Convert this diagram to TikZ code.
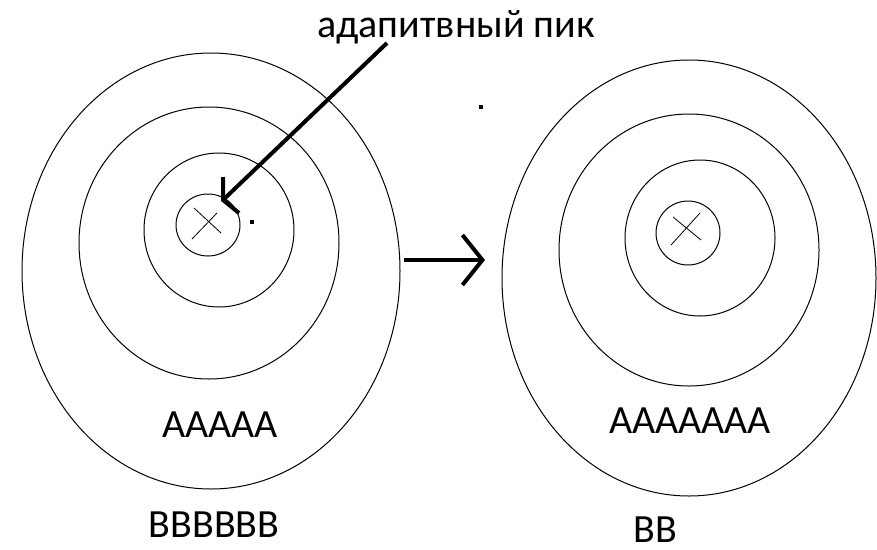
\documentclass[tikz,border=0pt]{standalone}
\usepackage{fontspec}
\setmainfont{Carlito}
\usetikzlibrary{arrows.meta}

\begin{document}
\begin{tikzpicture}[x=1pt,y=-1pt,
    ring/.style={black,line width=1pt},
    cross/.style={black,line width=0.8pt},
    pen/.style={black,line width=4pt},
    lbl/.style={anchor=base,inner sep=0pt,font=\fontsize{40}{42}\selectfont}]
    \useasboundingbox (0,0) rectangle (877,549);
    % left landscape
    \draw[ring] (211,271) ellipse (189pt and 218pt);
    \draw[ring] (209,243) ellipse (130pt and 136pt);
    \draw[ring] (219,230) ellipse (75pt and 77pt);
    \draw[ring] (208,225) ellipse (32pt and 31pt);
    \draw[cross] (194,208) -- (221,233);
    \draw[cross] (192,239) -- (217,213);
    \fill (250,220) rectangle (254,224);
    % right landscape
    \draw[ring] (689,278) ellipse (187pt and 218pt);
    \draw[ring] (689,250) ellipse (130pt and 136pt);
    \draw[ring] (700,238) ellipse (75pt and 78pt);
    \draw[ring] (688,233) ellipse (32pt and 32pt);
    \draw[cross] (673,217) -- (701,240);
    \draw[cross] (671,245) -- (700,213);
    \fill (479,105) rectangle (483,109);
    % labels
    \node[lbl] (peak) at (456,37) {адапитвный пик};
    \node[lbl] (oldA) at (220,437) {AAAAA};
    \node[lbl] (oldB) at (214,537) {BBBBBB};
    \node[lbl] (newA) at (690,433) {AAAAAAA};
    \node[lbl] (newB) at (655,542) {BB};
    % arrows
    \coordinate (peakfrom) at (387,43);
    \coordinate (peaktip) at (223,200);
    \draw[pen] (peakfrom) -- (peaktip);
    \draw[pen] (peaktip) ++(0,-23) -- (peaktip) -- ++(16,13);
    \coordinate (leftedge) at (404,260);
    \coordinate (rightedge) at (485,260);
    \draw[pen,-{Straight Barb[length=20pt,width=50pt]}] (leftedge) -- (rightedge);
\end{tikzpicture}
\end{document}
